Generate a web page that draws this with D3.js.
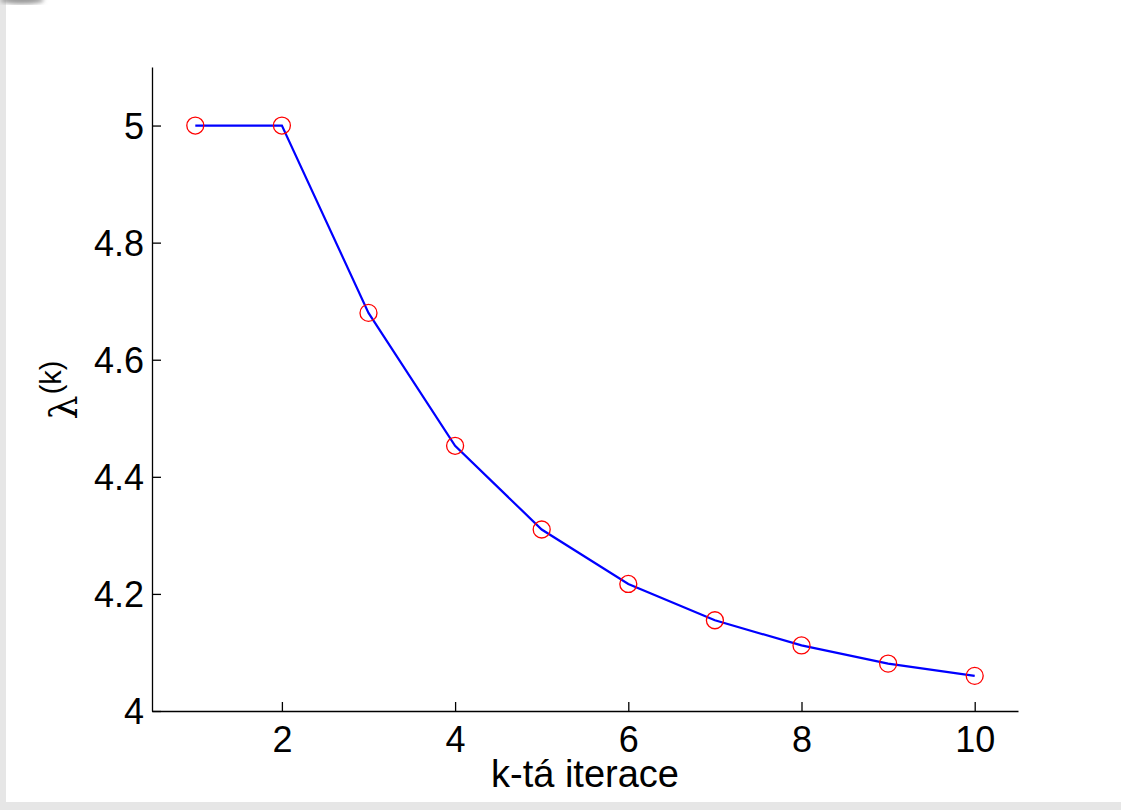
<!doctype html>
<html>
<head>
<meta charset="UTF-8">
<style>
  html, body { margin: 0; padding: 0; background: #fff; }
  svg { display: block; }
</style>
</head>
<body>
<svg id="chart" width="1121" height="810"></svg>
<script src="https://d3js.org/d3.v7.min.js"></script>
<script>

    // data
    var iterace = [1, 2, 3, 4, 5, 6, 7, 8, 9, 10];
    var lambda = [5.0, 5.0, 4.68, 4.453, 4.31, 4.217, 4.155, 4.112, 4.081, 4.06];
    var xTicks = [2, 4, 6, 8, 10];
    var yTicks = [4, 4.2, 4.4, 4.6, 4.8, 5];

    var svg = d3.select("#chart"),
        width = +svg.attr("width"),
        height = +svg.attr("height");

    // gray frame of the window (left and bottom)
    svg.append("rect").attr("x", 0).attr("y", 0).attr("width", width).attr("height", height).attr("fill", "#e6e6e6");
    svg.append("rect").attr("x", 6).attr("y", 0).attr("width", width - 6).attr("height", 802).attr("fill", "#fff");

    // little blurred smudge in the top left corner
    var defs = svg.append("defs");
    defs.append("filter").attr("id", "blur")
        .append("feGaussianBlur").attr("stdDeviation", 2);
    svg.append("ellipse").attr("cx", 22).attr("cy", 0).attr("rx", 22).attr("ry", 4)
        .attr("fill", "#9a9a9a").attr("filter", "url(#blur)");

    // plot box
    var mLeft = 152, mRight = 1018, mTop = 67, mBottom = 711;

    var x = d3.scaleLinear().domain([0.5, 10.5]).range([mLeft, mRight]);
    var y = d3.scaleLinear().domain([4, 5.1]).range([mBottom, mTop]);

    var font = "Liberation Sans, Arial, Helvetica, sans-serif";

    // x axis
    var xAxis = svg.append("g")
        .attr("transform", "translate(0," + mBottom + ")")
        .call(d3.axisBottom(x).tickValues(xTicks).tickSizeInner(-9).tickSizeOuter(0).tickPadding(15)
            .tickFormat(d3.format("d")));

    // y axis
    var yAxis = svg.append("g")
        .attr("transform", "translate(" + mLeft + ",0)")
        .call(d3.axisLeft(y).tickValues(yTicks).tickSizeInner(-9).tickSizeOuter(0).tickPadding(8)
            .tickFormat(function (d) { return String(+d.toFixed(1)); }));

    [xAxis, yAxis].forEach(function (g) {
        g.select(".domain").attr("stroke", "#000").attr("stroke-width", 1.3);
        g.selectAll(".tick line").attr("stroke", "#000").attr("stroke-width", 1.3);
        g.selectAll(".tick text").attr("fill", "#000")
            .style("font-family", font).style("font-size", "36px");
    });
    xAxis.selectAll(".tick text").attr("dy", "0.71em");
    yAxis.selectAll(".tick text").attr("dy", "0.36em");

    // axis labels
    svg.append("text")
        .attr("x", (mLeft + mRight) / 2)
        .attr("y", 787)
        .attr("text-anchor", "middle")
        .style("font-family", font)
        .style("font-size", "38px")
        .text("k-tá iterace");

    var yl = svg.append("text")
        .attr("transform", "translate(77,390) rotate(-90)")
        .attr("text-anchor", "middle")
        .style("font-family", "DejaVu Serif, serif");
    yl.append("tspan").style("font-size", "38px").text("λ");
    yl.append("tspan").attr("dy", -16).attr("dx", 1).style("font-size", "29px")
        .style("font-family", font).text("(k)");

    // line
    var line = d3.line()
        .x(function (d, i) { return x(iterace[i]); })
        .y(function (d) { return y(d); });

    svg.append("path")
        .datum(lambda)
        .attr("d", line)
        .attr("fill", "none")
        .attr("stroke", "#0000ff")
        .attr("stroke-width", 2.2);

    // markers
    svg.append("g")
        .selectAll("circle")
        .data(lambda)
        .enter().append("circle")
        .attr("cx", function (d, i) { return x(iterace[i]); })
        .attr("cy", function (d) { return y(d); })
        .attr("r", 8.5)
        .attr("fill", "none")
        .attr("stroke", "#ff0000")
        .attr("stroke-width", 1.3);

</script>
</body>
</html>
